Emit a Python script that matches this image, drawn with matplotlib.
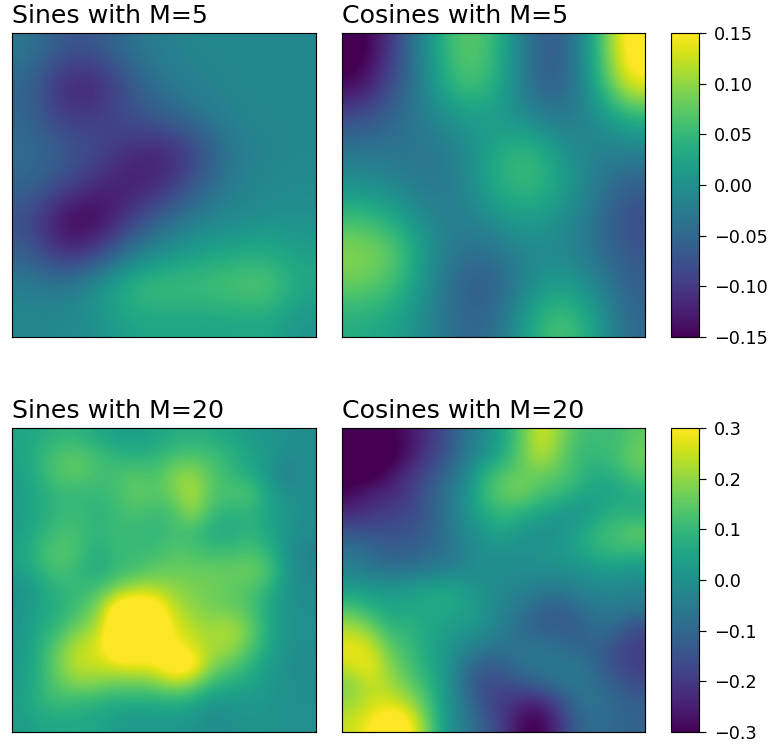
import numpy as np
import matplotlib
matplotlib.use('Agg')
import matplotlib.pyplot as plt

titles = ['Sines with M=5', 'Cosines with M=5', 'Sines with M=20', 'Cosines with M=20']

sines5 = [
    [-0.03, -0.07, -0.07, -0.035, -0.02, -0.01, -0.01, -0.01, -0.01],
    [-0.05, -0.12, -0.125, -0.07, -0.03, -0.02, -0.01, -0.01, -0.01],
    [-0.05, -0.10, -0.095, -0.075, -0.06, -0.035, -0.015, -0.01, -0.01],
    [-0.04, -0.06, -0.08, -0.115, -0.125, -0.09, -0.03, -0.015, -0.01],
    [-0.05, -0.08, -0.115, -0.13, -0.115, -0.065, -0.02, -0.01, -0.005],
    [-0.08, -0.15, -0.155, -0.10, -0.05, -0.02, -0.01, 0.0, 0.0],
    [-0.06, -0.12, -0.10, -0.03, 0.0, 0.02, 0.03, 0.035, 0.02],
    [-0.02, -0.03, 0.005, 0.055, 0.065, 0.06, 0.07, 0.08, 0.03],
    [-0.01, -0.01, 0.0, 0.025, 0.025, 0.025, 0.025, 0.03, 0.005],
]
cosines5 = [
    [-0.17, -0.10, 0.0, 0.08, 0.06, -0.04, -0.075, 0.03, 0.18],
    [-0.15, -0.08, -0.01, 0.07, 0.05, -0.04, -0.07, 0.02, 0.15],
    [-0.08, -0.05, -0.02, 0.01, 0.015, -0.01, -0.035, -0.01, 0.04],
    [-0.03, -0.035, -0.035, -0.02, 0.03, 0.06, 0.01, -0.02, -0.02],
    [0.0, -0.01, -0.035, -0.02, 0.035, 0.06, 0.025, -0.025, -0.06],
    [0.06, 0.035, -0.01, -0.025, 0.0, 0.02, 0.0, -0.035, -0.085],
    [0.10, 0.085, 0.01, -0.04, -0.04, -0.01, -0.01, -0.035, -0.07],
    [0.08, 0.06, 0.0, -0.06, -0.065, -0.01, 0.025, -0.01, -0.06],
    [0.035, 0.025, -0.01, -0.05, -0.05, 0.025, 0.075, 0.025, -0.05],
]
sines20 = [
    [0.05, 0.07, 0.09, 0.09, 0.06, 0.04, 0.03, 0.05, 0.07, 0.08, 0.07, 0.05, 0.03, 0.01, 0.0, 0.0],
    [0.05, 0.09, 0.14, 0.15, 0.12, 0.09, 0.08, 0.09, 0.12, 0.13, 0.12, 0.09, 0.05, 0.02, -0.01, 0.0],
    [0.04, 0.09, 0.14, 0.15, 0.12, 0.12, 0.15, 0.12, 0.19, 0.21, 0.14, 0.10, 0.07, 0.02, -0.05, 0.0],
    [0.03, 0.07, 0.10, 0.10, 0.10, 0.12, 0.16, 0.14, 0.17, 0.24, 0.14, 0.13, 0.14, 0.05, 0.0, 0.0],
    [0.03, 0.07, 0.10, 0.11, 0.08, 0.11, 0.13, 0.11, 0.12, 0.21, 0.11, 0.08, 0.09, 0.05, 0.01, 0.0],
    [0.04, 0.08, 0.12, 0.12, 0.09, 0.11, 0.10, 0.09, 0.12, 0.11, 0.07, 0.06, 0.09, 0.06, 0.01, -0.01],
    [0.05, 0.11, 0.15, 0.12, 0.07, 0.11, 0.11, 0.11, 0.14, 0.13, 0.11, 0.11, 0.13, 0.09, 0.01, -0.04],
    [0.04, 0.09, 0.13, 0.10, 0.06, 0.10, 0.12, 0.15, 0.16, 0.16, 0.16, 0.16, 0.17, 0.14, 0.02, -0.03],
    [0.0, 0.05, 0.09, 0.10, 0.12, 0.18, 0.23, 0.23, 0.20, 0.18, 0.17, 0.15, 0.14, 0.09, 0.01, -0.01],
    [0.01, 0.05, 0.08, 0.12, 0.18, 0.36, 0.40, 0.36, 0.24, 0.20, 0.17, 0.16, 0.13, 0.06, 0.0, 0.0],
    [0.01, 0.07, 0.10, 0.17, 0.22, 0.40, 0.44, 0.40, 0.28, 0.23, 0.21, 0.23, 0.17, 0.07, 0.01, 0.0],
    [0.02, 0.08, 0.16, 0.25, 0.26, 0.40, 0.42, 0.34, 0.31, 0.26, 0.22, 0.22, 0.15, 0.06, 0.0, 0.0],
    [0.02, 0.09, 0.18, 0.25, 0.25, 0.27, 0.28, 0.29, 0.38, 0.35, 0.19, 0.15, 0.09, 0.03, 0.0, -0.01],
    [0.03, 0.09, 0.15, 0.19, 0.18, 0.16, 0.16, 0.17, 0.21, 0.18, 0.10, 0.07, 0.05, 0.02, 0.0, 0.0],
    [0.04, 0.09, 0.11, 0.09, 0.08, 0.06, 0.06, 0.06, 0.07, 0.05, 0.01, 0.01, 0.02, 0.01, 0.0, 0.0],
    [0.03, 0.05, 0.06, 0.06, 0.05, 0.03, 0.02, 0.02, 0.02, 0.01, -0.01, 0.0, 0.01, 0.01, 0.0, 0.0],
]
cosines20 = [
    [-0.36, -0.32, -0.30, -0.28, -0.21, -0.16, -0.07, -0.01, 0.05, 0.15, 0.27, 0.19, 0.12, 0.11, 0.11, 0.15],
    [-0.34, -0.36, -0.33, -0.27, -0.20, -0.14, -0.06, 0.0, 0.07, 0.16, 0.24, 0.17, 0.10, 0.10, 0.12, 0.17],
    [-0.32, -0.33, -0.27, -0.21, -0.16, -0.10, -0.03, 0.09, 0.14, 0.16, 0.16, 0.14, 0.11, 0.06, 0.09, 0.14],
    [-0.29, -0.24, -0.23, -0.20, -0.13, -0.07, 0.0, 0.10, 0.16, 0.18, 0.12, 0.11, 0.06, 0.04, 0.05, 0.07],
    [-0.23, -0.21, -0.19, -0.17, -0.14, -0.07, 0.0, 0.07, 0.10, 0.08, 0.05, 0.02, 0.01, 0.05, 0.09, 0.07],
    [-0.14, -0.15, -0.15, -0.15, -0.12, -0.07, -0.02, 0.02, 0.06, 0.01, 0.0, 0.0, 0.05, 0.10, 0.12, 0.16],
    [-0.07, -0.09, -0.12, -0.12, -0.10, -0.08, -0.03, 0.0, 0.0, 0.0, 0.01, 0.02, 0.05, 0.09, 0.11, 0.10],
    [-0.03, -0.06, -0.08, -0.07, -0.05, -0.04, -0.02, 0.0, 0.0, -0.01, 0.0, 0.0, 0.0, 0.02, 0.02, 0.01],
    [0.03, 0.03, 0.02, 0.03, 0.05, 0.06, 0.03, 0.0, -0.02, -0.03, -0.05, -0.06, -0.03, -0.02, -0.02, -0.03],
    [0.13, 0.08, 0.05, 0.06, 0.06, 0.06, 0.05, 0.01, -0.03, -0.06, -0.11, -0.12, -0.09, -0.06, -0.05, -0.06],
    [0.22, 0.18, 0.09, 0.09, 0.06, 0.04, 0.02, 0.0, -0.05, -0.09, -0.12, -0.13, -0.12, -0.08, -0.10, -0.16],
    [0.29, 0.26, 0.15, 0.11, 0.06, 0.02, -0.02, -0.05, -0.07, -0.07, -0.07, -0.08, -0.11, -0.11, -0.16, -0.19],
    [0.26, 0.30, 0.19, 0.13, 0.07, 0.02, -0.07, -0.13, -0.11, -0.07, -0.06, -0.06, -0.06, -0.11, -0.16, -0.19],
    [0.18, 0.25, 0.22, 0.16, 0.10, 0.02, -0.10, -0.16, -0.17, -0.14, -0.11, -0.07, -0.06, -0.08, -0.13, -0.16],
    [0.21, 0.25, 0.27, 0.23, 0.13, 0.02, -0.06, -0.16, -0.19, -0.24, -0.25, -0.17, -0.08, -0.07, -0.10, -0.12],
    [0.25, 0.30, 0.36, 0.33, 0.17, 0.02, -0.05, -0.12, -0.20, -0.29, -0.31, -0.21, -0.11, -0.08, -0.10, -0.11],
]

ticks5 = [-0.15, -0.10, -0.05, 0.0, 0.05, 0.10, 0.15]
ticks20 = [-0.3, -0.2, -0.1, 0.0, 0.1, 0.2, 0.3]

W, H = 770, 745
dpi = 138
plt.rcParams['axes.linewidth'] = 0.6
fig = plt.figure(figsize=(W / dpi, H / dpi), dpi=dpi)


def box(x0, y0, x1, y1):
    return [x0 / W, 1 - y1 / H, (x1 - x0) / W, (y1 - y0) / H]


def panel(pos, data, title, lim):
    ax = fig.add_axes(box(*pos))
    im = ax.imshow(np.array(data), cmap='viridis', vmin=-lim, vmax=lim,
                   interpolation='bicubic', aspect='auto')
    ax.set_xticks([])
    ax.set_yticks([])
    ax.set_title(title, loc='left', fontsize=13.2, pad=5)
    return im


panel((12, 33, 316, 337), sines5, titles[0], 0.15)
im1 = panel((342, 33, 645, 337), cosines5, titles[1], 0.15)
panel((12, 428, 316, 732), sines20, titles[2], 0.3)
im2 = panel((342, 428, 645, 732), cosines20, titles[3], 0.3)

cax1 = fig.add_axes(box(671, 33, 699, 337))
cb1 = fig.colorbar(im1, cax=cax1)
cb1.set_ticks(ticks5)
cax2 = fig.add_axes(box(671, 428, 699, 732))
cb2 = fig.colorbar(im2, cax=cax2)
cb2.set_ticks(ticks20)
for c in (cax1, cax2):
    c.tick_params(labelsize=9.2, length=3.5, width=0.6, pad=4.5)

fig.savefig('out.png', dpi=dpi)
